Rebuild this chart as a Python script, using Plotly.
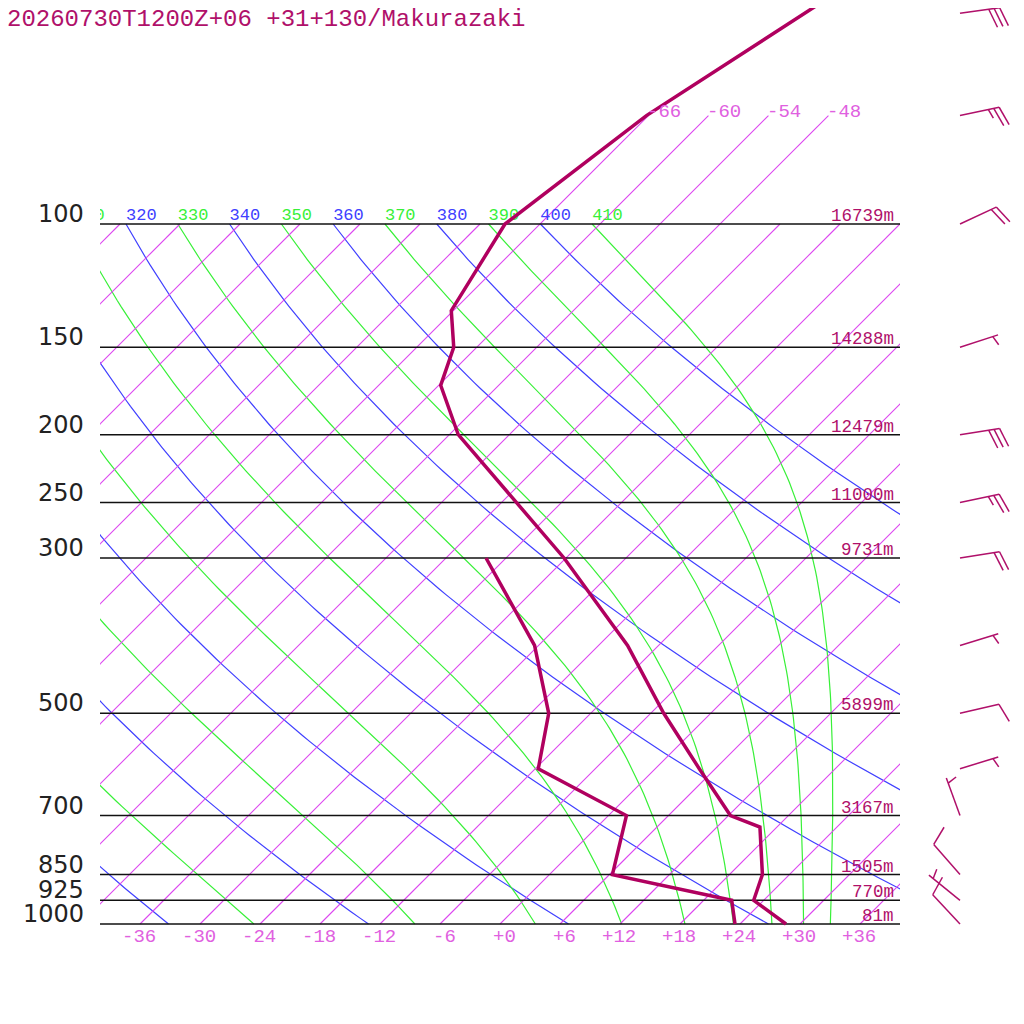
import numpy as np
import plotly.graph_objects as go

# sounding
pres_t = [1000, 925, 850, 727, 700, 600, 500, 400, 300, 250, 200, 170, 150, 133, 100, 70, 50, 40]
temp = [28.6, 23.0, 21.3, 16.3, 12.2, 4.4, -4.7, -15.1, -30.2, -40.5, -53.1, -59.8, -62.3, -66.2,
        -69.5, -66.2, -60.6, -56.9]
pres_td = [1000, 925, 850, 700, 600, 500, 400, 300]
dewp = [23.5, 20.8, 6.3, 1.8, -11.7, -16.2, -24.4, -38.0]

# winds (direction deg, speed kt)
wind_p = [50, 70, 100, 150, 200, 250, 300, 400, 500, 600, 700, 850, 925, 1000]
wind_dir = [82, 78, 65, 72, 81, 78, 81, 73, 77, 73, 340, 319, 309, 317]
wind_kt = [30, 25, 20, 5, 30, 25, 20, 5, 10, 5, 5, 10, 5, 10]

# standard levels and their heights
levels = [1000, 925, 850, 700, 500, 300, 250, 200, 150, 100]
heights = ["81m", "770m", "1505m", "3167m", "5899m", "9731m", "11000m", "12479m", "14288m", "16739m"]

# background lines
isotherms = list(range(-108, 37, 6))
upper_isotherms = [-66, -60, -54, -48]
dry_theta = list(range(240, 401, 20))
moist_theta = list(range(230, 411, 20))
tick_temps = list(range(-36, 37, 6))

title = "20260730T1200Z+06 +31+130/Makurazaki"

# page geometry (the page sits 8px in from the window corner)
OFF = 8
SKEW = 70.0          # degrees of skew per decade of pressure
PX_DECADE = 700.0    # pixels per decade
Y1000 = 924          # window pixel of the 1000 hPa line
P_TOP = 1000 * 10 ** (-(Y1000 - OFF) / PX_DECADE)
P_BOT = 1000 * 10 ** ((1024 + OFF - Y1000) / PX_DECADE)
KAPPA = 0.2857

C_TEMP = "#b0005f"
C_TEXT = "#b0106a"
C_ISO = "#dc46f0"
C_ISO_TXT = "#e060e0"
C_DRY = "#4040ff"
C_MOIST = "#38f038"
MONO = "Liberation Mono"


def skx(t, p):
    return np.asarray(t, dtype=float) + SKEW * np.log10(1000.0 / np.asarray(p, dtype=float))


def es(t):
    return 6.112 * np.exp(17.67 * (t - 273.15) / (t - 29.65))


def moist_dtdp(t, p):
    rd, cp, lv, eps = 287.04, 1005.7, 2.501e6, 0.622
    e = es(t)
    rs = eps * e / (p - e)
    return (rd * t + lv * rs) / p / (cp + lv * lv * rs * eps / (rd * t * t))


def moist_curve(theta, pgrid):
    t = theta * (pgrid[0] / 1000.0) ** KAPPA
    out = [t]
    for p1, p2 in zip(pgrid[:-1], pgrid[1:]):
        dp = p2 - p1
        k1 = moist_dtdp(t, p1)
        k2 = moist_dtdp(t + k1 * dp, p2)
        t = t + 0.5 * (k1 + k2) * dp
        out.append(t)
    return np.array(out) - 273.15


def joined(curves):
    xs, ys = [], []
    for x, y in curves:
        xs += [float(v) for v in x] + [None]
        ys += [float(v) for v in y] + [None]
    return xs, ys


def px(x):
    return (x - OFF) / 1024.0


fig = go.Figure()

pgrid = np.geomspace(100, 1000, 120)

# dry adiabats
dry = [(skx(th * (pgrid / 1000.0) ** KAPPA - 273.15, pgrid), pgrid) for th in dry_theta]
x, y = joined(dry)
fig.add_trace(go.Scatter(x=x, y=y, mode="lines", line=dict(color=C_DRY, width=1.2), hoverinfo="skip"))

# moist adiabats
moist = [(skx(moist_curve(th, pgrid), pgrid), pgrid) for th in moist_theta]
x, y = joined(moist)
fig.add_trace(go.Scatter(x=x, y=y, mode="lines", line=dict(color=C_MOIST, width=1.2), hoverinfo="skip"))

# isotherms, one trace each, sampled along pressure
for t in isotherms:
    ptop = 70 if t in upper_isotherms else 100
    pp = np.geomspace(1000, ptop, 12)
    fig.add_trace(go.Scatter(x=skx(np.full(pp.size, t), pp), y=pp, mode="lines",
                             line=dict(color=C_ISO, width=1.1), hoverinfo="skip"))

# pressure lines
x, y = joined([([-40, 40], [p, p]) for p in levels])
fig.add_trace(go.Scatter(x=x, y=y, mode="lines", line=dict(color="#111111", width=1.5), hoverinfo="skip"))

# theta labels on the 100 hPa line (clipped at the left edge)
for thetas, col in ((dry_theta, C_DRY), (moist_theta, C_MOIST)):
    tt = [th * 0.1 ** KAPPA - 273.15 for th in thetas]
    fig.add_trace(go.Scatter(
        x=skx(tt, [100] * len(tt)), y=[100] * len(tt), mode="text",
        text=[str(th) for th in thetas], textposition="top right",
        textfont=dict(family=MONO, size=17, color=col), hoverinfo="skip"))

# temperature and dew point
fig.add_trace(go.Scatter(x=skx(temp, pres_t), y=pres_t, mode="lines",
                         line=dict(color=C_TEMP, width=3.5), hoverinfo="skip"))
fig.add_trace(go.Scatter(x=skx(dewp, pres_td), y=pres_td, mode="lines",
                         line=dict(color=C_TEMP, width=3.5), hoverinfo="skip"))

# wind barbs, drawn in window pixels on a second x axis
STAFF, FULL, HALF, STEP, BARB_ROT = 40.0, 20.0, 10.0, 5.5, np.radians(72)
BARB_X = 960
bx_all, by_all = [], []
for p0, d, spd in zip(wind_p, wind_dir, wind_kt):
    ux, uy = np.sin(np.radians(d)), np.cos(np.radians(d))
    vx = ux * np.cos(BARB_ROT) + uy * np.sin(BARB_ROT)
    vy = -ux * np.sin(BARB_ROT) + uy * np.cos(BARB_ROT)
    segs = [((0, 0), (STAFF * ux, STAFF * uy))]
    n_full = spd // 10
    for i in range(n_full):
        s = STAFF - i * STEP
        segs.append(((s * ux, s * uy), (s * ux + FULL * vx, s * uy + FULL * vy)))
    if spd % 10 >= 5:
        s = STAFF - max(n_full, 1) * STEP
        segs.append(((s * ux, s * uy), (s * ux + HALF * vx, s * uy + HALF * vy)))
    for (x0, y0), (x1, y1) in segs:
        bx_all += [BARB_X + x0, BARB_X + x1, None]
        by_all += [p0 * 10 ** (-y0 / PX_DECADE), p0 * 10 ** (-y1 / PX_DECADE), None]
fig.add_trace(go.Scatter(x=bx_all, y=by_all, mode="lines", xaxis="x2", yaxis="y2",
                         line=dict(color=C_TEXT, width=1.5), hoverinfo="skip"))

ann = []
ann.append(dict(text=title, xref="paper", yref="paper", x=px(5), y=1, xanchor="left",
                yanchor="top", yshift=4, showarrow=False,
                font=dict(family=MONO, size=24, color=C_TEXT)))
for p, h in zip(levels, heights):
    ann.append(dict(text=str(p), xref="paper", yref="y", x=px(86), y=np.log10(p),
                    xanchor="right", yanchor="bottom", yshift=-6, showarrow=False,
                    font=dict(family="DejaVu Sans", size=24, color="#222222")))
    ann.append(dict(text=h, xref="x", yref="y", x=40, y=np.log10(p), xanchor="right",
                    yanchor="bottom", xshift=-4, yshift=-4, showarrow=False,
                    font=dict(family=MONO, size=17.5, color=C_TEXT)))
for t in upper_isotherms:
    ann.append(dict(text=f"{t:+d}", xref="x", yref="y", x=float(skx(t, 70)), y=np.log10(70),
                    xanchor="left", yanchor="bottom", xshift=-3, yshift=-9, showarrow=False,
                    font=dict(family=MONO, size=19, color=C_ISO_TXT)))
for t in tick_temps:
    ann.append(dict(text=f"{t:+d}", xref="x", yref="y", x=t, y=3.0, xanchor="right",
                    yanchor="middle", xshift=18, yshift=-13, showarrow=False,
                    font=dict(family=MONO, size=19, color=C_ISO_TXT)))

fig.update_layout(
    width=1024, height=1024, margin=dict(l=0, r=0, t=0, b=0),
    paper_bgcolor="white", plot_bgcolor="rgba(0,0,0,0)", showlegend=False,
    xaxis=dict(domain=[px(100), px(900)], range=[-40, 40], visible=False),
    yaxis=dict(domain=[0, 1], type="log", range=[np.log10(P_BOT), np.log10(P_TOP)], visible=False),
    xaxis2=dict(domain=[0, 1], range=[OFF, 1024 + OFF], anchor="y2", visible=False),
    yaxis2=dict(domain=[0, 1], type="log", range=[np.log10(P_BOT), np.log10(P_TOP)],
                anchor="x2", visible=False),
    annotations=ann,
)

fig.write_html("out.html")
